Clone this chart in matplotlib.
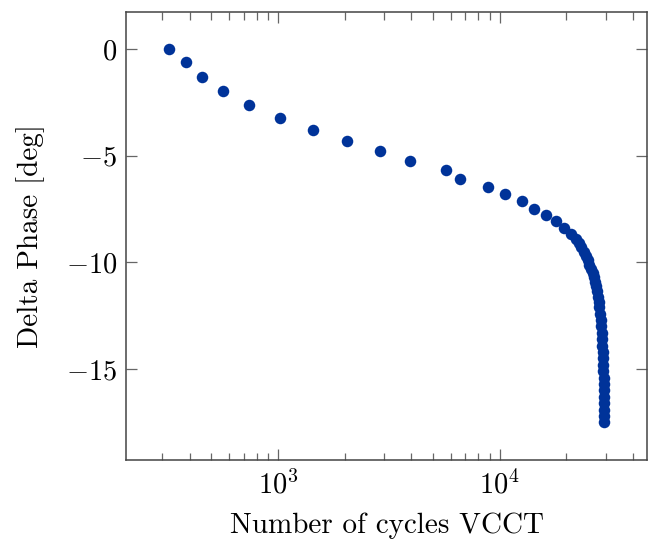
import numpy as np
import matplotlib
matplotlib.use("Agg")
import matplotlib.pyplot as plt
from matplotlib.ticker import LogLocator, NullFormatter, FixedLocator

plt.rcParams["mathtext.fontset"] = "cm"
plt.rcParams["font.family"] = "cmr10"
plt.rcParams["axes.formatter.use_mathtext"] = True

# Fatigue cycles (VCCT) and corresponding phase shift
cycles = [
    324, 385, 456, 563, 743, 1018, 1442, 2037, 2870, 3930,
    5750, 6620, 8810, 10610, 12560, 14330, 16100, 17850, 19480, 21070,
    22000, 22700, 23300, 23900, 24400, 24900, 25400, 25850, 26250, 26600,
    26950, 27250, 27500, 27750, 27950, 28150, 28350, 28500, 28650, 28800,
    28950, 29050, 29150, 29250, 29300, 29350, 29400, 29420, 29450, 29470,
    29480, 29490, 29500, 29500,
]
delta_phase = [
    0.0, -0.60, -1.31, -1.97, -2.64, -3.22, -3.78, -4.31, -4.80, -5.25,
    -5.67, -6.11, -6.45, -6.78, -7.14, -7.49, -7.78, -8.08, -8.41, -8.67,
    -8.90, -9.10, -9.30, -9.50, -9.70, -9.90, -10.10, -10.30, -10.50, -10.70,
    -10.90, -11.10, -11.35, -11.60, -11.85, -12.10, -12.40, -12.70, -13.00, -13.30,
    -13.60, -13.90, -14.20, -14.50, -14.80, -15.10, -15.40, -15.70, -16.00, -16.30,
    -16.60, -16.90, -17.20, -17.50,
]
y_ticks = [0, -5, -10, -15]
x_ticks = [1e3, 1e4]

fig = plt.figure(figsize=(6.55, 5.39), dpi=100)
ax = fig.add_axes([0.1924, 0.1471, 0.7959, 0.8312])

ax.plot(cycles, delta_phase, linestyle="none", marker="o",
        markersize=8.3, color="#003399", markeredgewidth=0)

ax.set_xscale("log")
# 10 % margin on each side of the data range
lx = np.log10([min(cycles), max(cycles)])
mx = 0.1 * (lx[1] - lx[0])
ax.set_xlim(10 ** (lx[0] - mx), 10 ** (lx[1] + mx))
ly = [min(delta_phase), max(delta_phase)]
my = 0.1 * (ly[1] - ly[0])
ax.set_ylim(ly[0] - my, ly[1] + my)

ax.xaxis.set_major_locator(FixedLocator(x_ticks))
ax.set_xticklabels([r"$10^{3}$", r"$10^{4}$"])
ax.xaxis.set_minor_locator(LogLocator(base=10, subs=np.arange(2, 10)))
ax.xaxis.set_minor_formatter(NullFormatter())
ax.set_yticks(y_ticks)
ax.set_yticklabels([r"$%d$" % v if v == 0 else r"$-%d$" % (-v) for v in y_ticks])

ax.tick_params(which="both", direction="in", top=True, right=True,
               color="#666666", labelsize=20.5, width=0.9)
ax.tick_params(which="major", length=8)
ax.tick_params(which="minor", length=5.4)
ax.tick_params(axis="x", which="major", pad=8)
ax.tick_params(axis="y", which="major", pad=6.5)
for s in ax.spines.values():
    s.set_color("#444444")
    s.set_linewidth(1.1)

ax.set_xlabel("Number of cycles VCCT", fontsize=21, labelpad=9)
ax.set_ylabel("Delta Phase [deg]", fontsize=21, labelpad=15)

fig.savefig("out.png", dpi=100, facecolor="white")
